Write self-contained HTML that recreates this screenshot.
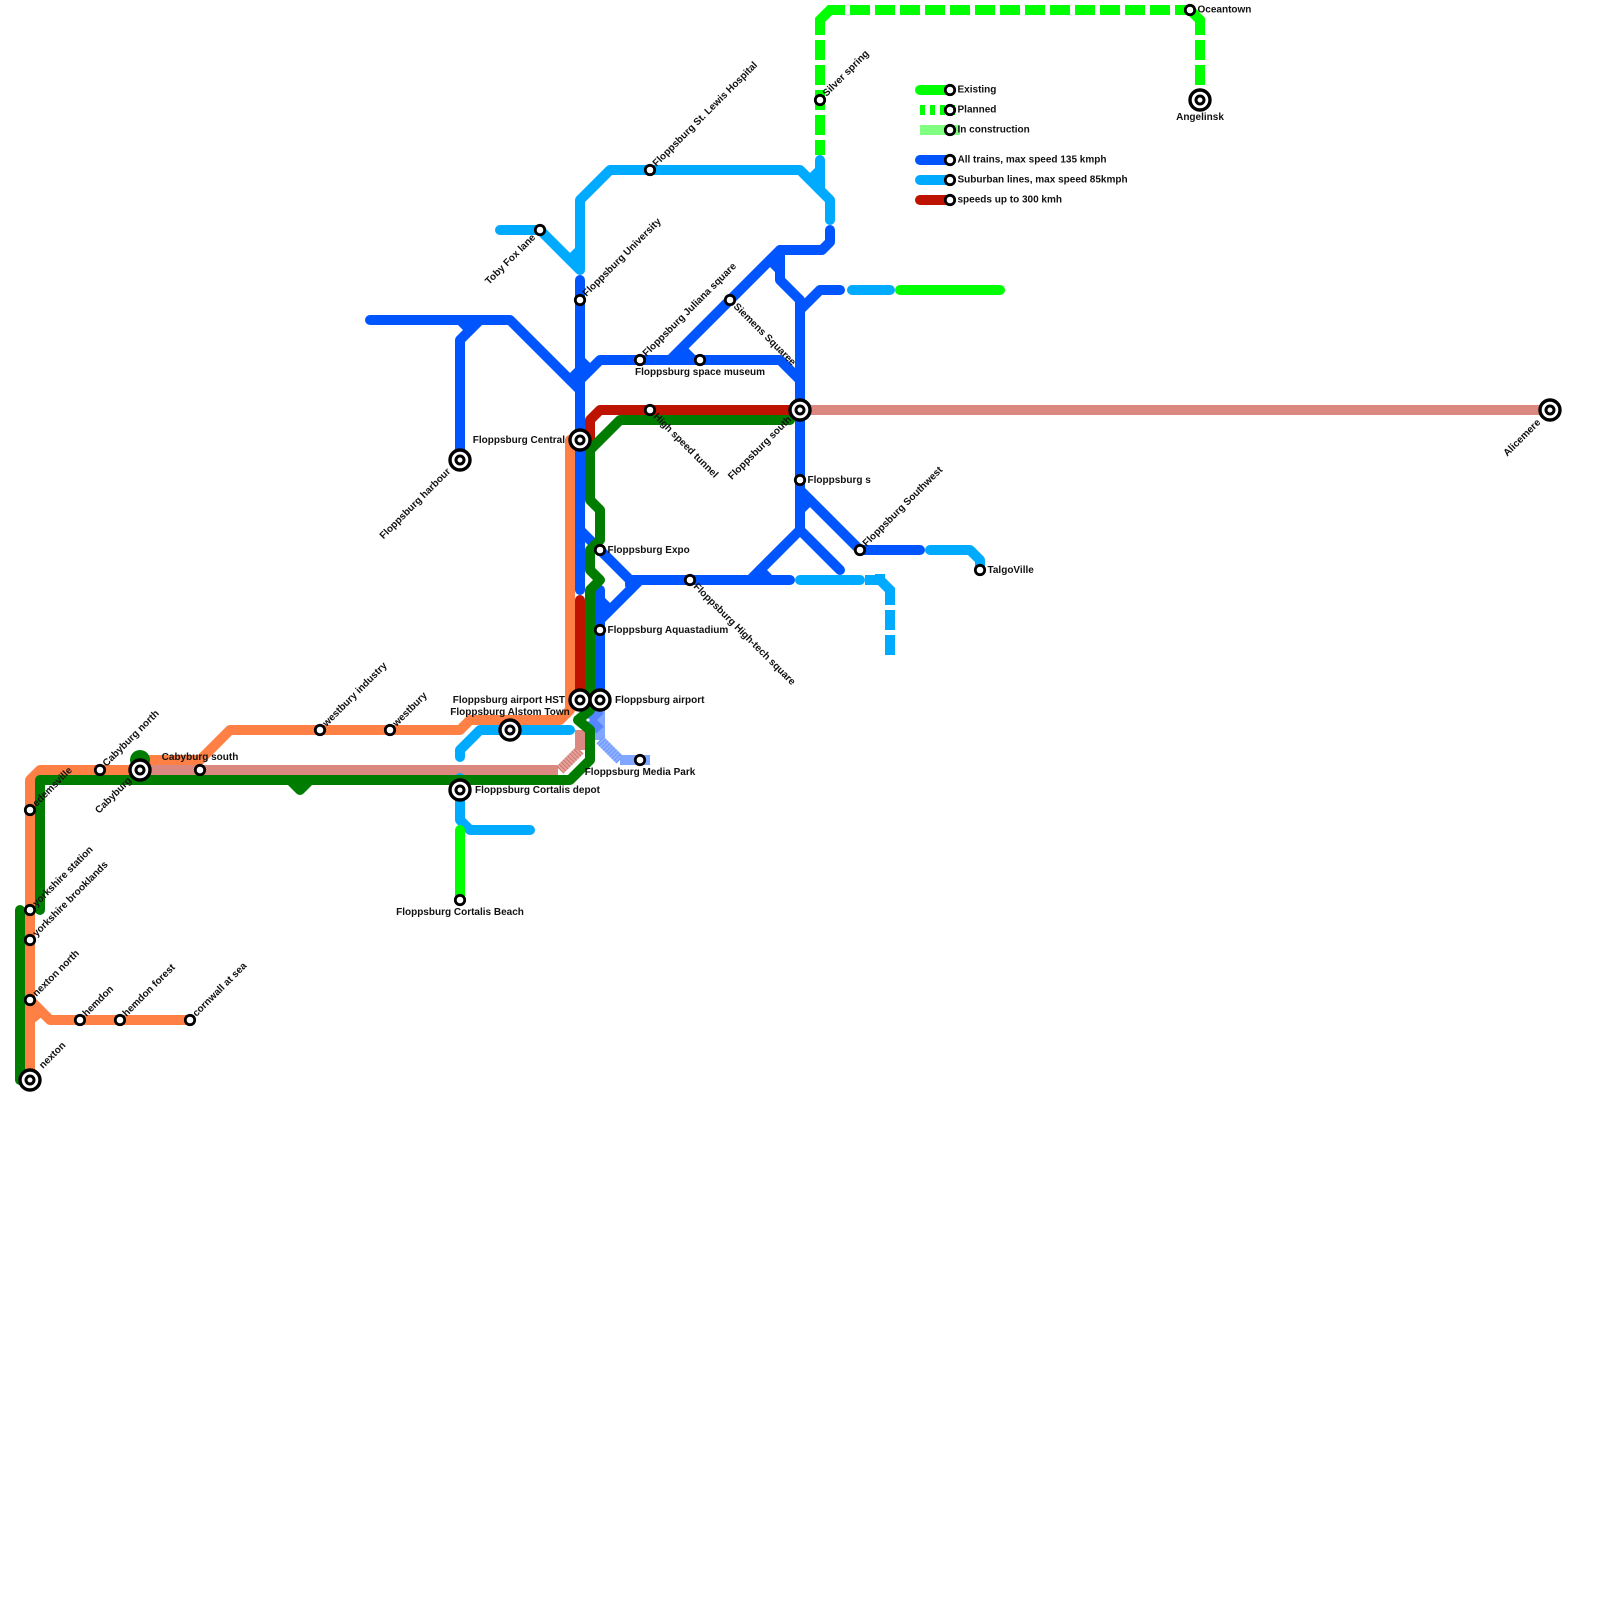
<!DOCTYPE html>
<html><head><meta charset="utf-8"><style>
html,body{margin:0;padding:0;background:#fff}
svg{display:block}
text{font-family:"Liberation Sans",sans-serif;font-size:10px;font-weight:700;fill:#111}
.l{fill:none;stroke-width:10;stroke-linecap:round;stroke-linejoin:round}
.b{fill:none;stroke-width:10;stroke-linecap:butt;stroke-linejoin:miter}
.s{fill:#fff;stroke:#000;stroke-width:2.8}
</style></head><body>
<svg width="1600" height="1600" viewBox="0 0 1600 1600" xmlns="http://www.w3.org/2000/svg">
<rect width="1600" height="1600" fill="#fff"/>
<!-- salmon -->
<g stroke="#db8880">
<path class="b" d="M150 770H558"/>
<path class="b" d="M560 770L580 750" stroke="#e3a29c"/>
<path class="b" d="M560 770L580 750" stroke="#d0746b" stroke-dasharray="1 2"/>
<path class="b" d="M580 750V730"/>
<path class="b" d="M800 410H1550"/>
</g>
<!-- construction blue -->
<g stroke="#80a6ff">
<path class="b" d="M600 710V740"/>
<path class="b" d="M600 740L620 760" stroke="#8fb1ff"/>
<path class="b" d="M600 740L620 760" stroke="#6a94ff" stroke-dasharray="1 2"/>
<path class="b" d="M620 760H650"/>
<path class="b" d="M590 720L600 710M590 720L600 730" stroke="#5585ff"/>
</g>
<!-- light blue -->
<g stroke="#00aaff">
<path class="l" d="M500 230H540L580 270V200L610 170H800L830 200V220"/>
<path class="l" d="M570 260L580 250"/>
<path class="l" d="M820 160V190M810 180L820 170"/>
<path class="l" d="M852 290H890"/>
<path class="l" d="M930 550H970L980 560V570"/>
<path class="l" d="M800 580H860"/>
<path class="b" d="M865 580H880L890 590V605M890 610V630M890 635V655M880 574V582"/>
<path class="l" d="M460 757V750L480 730H570"/>
<path class="l" d="M460 778V820L470 830H530"/>
</g>
<!-- blue -->
<g stroke="#0055ff">
<path class="l" d="M580 280V590"/>
<path class="l" d="M600 590V700"/>
<path class="l" d="M370 320H510L580 390"/>
<path class="l" d="M580 380L600 360H780L800 380"/>
<path class="l" d="M570 380L580 370M580 360L590 370"/>
<path class="l" d="M460 460V340L480 320M460 320L470 330"/>
<path class="l" d="M670 360L780 250H822L830 242V230"/>
<path class="l" d="M683 350L693 360"/>
<path class="l" d="M770 260L780 270M780 250V280L800 300V530"/>
<path class="l" d="M800 310L820 290H840"/>
<path class="l" d="M800 490L860 550H920"/>
<path class="l" d="M800 510L810 500"/>
<path class="l" d="M750 580L800 530L840 570"/>
<path class="l" d="M630 580H790"/>
<path class="l" d="M760 570L770 580"/>
<path class="l" d="M580 530L630 580V585"/>
<path class="l" d="M600 620L640 580"/>
<path class="l" d="M600 600L607 607"/>
</g>
<!-- orange -->
<g stroke="#ff8044">
<path class="l" d="M30 1080V780L40 770H140L150 760H200L230 730H460L470 720H560L570 710V440"/>
<path class="l" d="M30 1000L50 1020H190"/>
<path class="l" d="M30 1020L40 1012"/>
</g>
<!-- red -->
<g stroke="#bd1300">
<path class="l" d="M580 600V700"/>
<path class="l" d="M590 440V420L600 410H790"/>
</g>
<!-- dark green -->
<g stroke="#007d00">
<path class="l" d="M20 910V1080"/>
<circle cx="140" cy="760" r="10" fill="#007d00" stroke="none"/>
<path class="l" d="M40 910V780H570L590 760V730L578 720L590 710V590L600 580L590 570V550L600 540V510L590 500V450L620 420H790"/>
<path class="l" d="M290 780L300 790L310 780"/>
</g>
<!-- bright green -->
<g stroke="#00ff00">
<path class="l" d="M460 830V900"/>
<path class="l" d="M900 290H1000"/>
<path class="b" d="M820 35V20L830 10H845"/>
<path class="b" d="M820 40V155" stroke-dasharray="20 5"/>
<path class="b" d="M850 10H1175" stroke-dasharray="20 5"/>
<path class="b" d="M1175 10H1190L1200 20V35"/>
<path class="b" d="M1200 40V85" stroke-dasharray="20 5"/>
</g>
<!-- legend -->
<path class="l" stroke="#00ff00" d="M920 90H950"/>
<path class="b" stroke="#00ff00" d="M920 110H955" stroke-dasharray="5 5"/>
<path class="b" stroke="#80ff80" d="M920 130H960"/>
<path class="l" stroke="#0055ff" d="M920 160H950"/>
<path class="l" stroke="#00aaff" d="M920 180H950"/>
<path class="l" stroke="#bd1300" d="M920 200H950"/>
<!-- small stations -->
<g class="s">
<circle cx="30" cy="810" r="4.7"/><circle cx="30" cy="910" r="4.7"/><circle cx="30" cy="940" r="4.7"/><circle cx="30" cy="1000" r="4.7"/>
<circle cx="80" cy="1020" r="4.7"/><circle cx="120" cy="1020" r="4.7"/><circle cx="190" cy="1020" r="4.7"/>
<circle cx="100" cy="770" r="4.7"/><circle cx="200" cy="770" r="4.7"/>
<circle cx="320" cy="730" r="4.7"/><circle cx="390" cy="730" r="4.7"/>
<circle cx="460" cy="900" r="4.7"/><circle cx="640" cy="760" r="4.7"/>
<circle cx="540" cy="230" r="4.7"/><circle cx="580" cy="300" r="4.7"/><circle cx="650" cy="170" r="4.7"/>
<circle cx="640" cy="360" r="4.7"/><circle cx="700" cy="360" r="4.7"/><circle cx="730" cy="300" r="4.7"/>
<circle cx="650" cy="410" r="4.7"/><circle cx="800" cy="480" r="4.7"/><circle cx="860" cy="550" r="4.7"/>
<circle cx="980" cy="570" r="4.7"/><circle cx="600" cy="550" r="4.7"/><circle cx="600" cy="630" r="4.7"/>
<circle cx="690" cy="580" r="4.7"/><circle cx="820" cy="100" r="4.7"/><circle cx="1190" cy="10" r="4.7"/>
<circle cx="950" cy="90" r="4.7"/><circle cx="950" cy="110" r="4.7"/><circle cx="950" cy="130" r="4.7"/>
<circle cx="950" cy="160" r="4.7"/><circle cx="950" cy="180" r="4.7"/><circle cx="950" cy="200" r="4.7"/>
</g>
<!-- interchanges -->
<g fill="#fff" stroke="#000">
<circle cx="30" cy="1080" r="10" stroke-width="3.4"/><circle cx="30" cy="1080" r="4" stroke-width="3"/>
<circle cx="140" cy="770" r="10" stroke-width="3.4"/><circle cx="140" cy="770" r="4" stroke-width="3"/>
<circle cx="460" cy="790" r="10" stroke-width="3.4"/><circle cx="460" cy="790" r="4" stroke-width="3"/>
<circle cx="510" cy="730" r="10" stroke-width="3.4"/><circle cx="510" cy="730" r="4" stroke-width="3"/>
<circle cx="580" cy="700" r="10" stroke-width="3.4"/><circle cx="580" cy="700" r="4" stroke-width="3"/>
<circle cx="600" cy="700" r="10" stroke-width="3.4"/><circle cx="600" cy="700" r="4" stroke-width="3"/>
<circle cx="460" cy="460" r="10" stroke-width="3.4"/><circle cx="460" cy="460" r="4" stroke-width="3"/>
<circle cx="580" cy="440" r="10" stroke-width="3.4"/><circle cx="580" cy="440" r="4" stroke-width="3"/>
<circle cx="800" cy="410" r="10" stroke-width="3.4"/><circle cx="800" cy="410" r="4" stroke-width="3"/>
<circle cx="1550" cy="410" r="10" stroke-width="3.4"/><circle cx="1550" cy="410" r="4" stroke-width="3"/>
<circle cx="1200" cy="100" r="10" stroke-width="3.4"/><circle cx="1200" cy="100" r="4" stroke-width="3"/>
</g>
<!-- labels up-right -->
<text x="36.5" y="807" transform="rotate(-45 36.5 807)">edemsville</text>
<text x="36.5" y="907" transform="rotate(-45 36.5 907)">yorkshire station</text>
<text x="36.5" y="937" transform="rotate(-45 36.5 937)">yorkshire brooklands</text>
<text x="36.5" y="997" transform="rotate(-45 36.5 997)">nexton north</text>
<text x="86.5" y="1017" transform="rotate(-45 86.5 1017)">hemdon</text>
<text x="126.5" y="1017" transform="rotate(-45 126.5 1017)">hemdon forest</text>
<text x="196.5" y="1017" transform="rotate(-45 196.5 1017)">cornwall at sea</text>
<text x="43" y="1069" transform="rotate(-45 43 1069)">nexton</text>
<text x="106.5" y="767" transform="rotate(-45 106.5 767)">Cabyburg north</text>
<text x="326.5" y="727" transform="rotate(-45 326.5 727)">westbury industry</text>
<text x="396.5" y="727" transform="rotate(-45 396.5 727)">westbury</text>
<text x="586.5" y="297" transform="rotate(-45 586.5 297)">Floppsburg University</text>
<text x="656.5" y="167" transform="rotate(-45 656.5 167)">Floppsburg St. Lewis Hospital</text>
<text x="646.5" y="357" transform="rotate(-45 646.5 357)">Floppsburg Juliana square</text>
<text x="866.5" y="547" transform="rotate(-45 866.5 547)">Floppsburg Southwest</text>
<text x="826.5" y="97" transform="rotate(-45 826.5 97)">Silver spring</text>
<!-- labels end anchored -->
<text x="132" y="781" text-anchor="end" transform="rotate(-45 132 781)">Cabyburg</text>
<text x="536" y="238" text-anchor="end" transform="rotate(-45 536 238)">Toby Fox lane</text>
<text x="451" y="472" text-anchor="end" transform="rotate(-45 451 472)">Floppsburg harbour</text>
<text x="792" y="420" text-anchor="end" transform="rotate(-45 792 420)">Floppsburg south</text>
<text x="1541" y="423" text-anchor="end" transform="rotate(-45 1541 423)">Alicemere</text>
<!-- labels down-right -->
<text x="653" y="417" transform="rotate(45 653 417)">High speed tunnel</text>
<text x="693" y="587" transform="rotate(45 693 587)">Floppsburg High-tech square</text>
<text x="733" y="307" transform="rotate(45 733 307)">Siemens Squaree</text>
<!-- horizontal -->
<text x="200" y="760" text-anchor="middle">Cabyburg south</text>
<text x="475" y="793">Floppsburg Cortalis depot</text>
<text x="460" y="915" text-anchor="middle">Floppsburg Cortalis Beach</text>
<text x="565" y="703" text-anchor="end">Floppsburg airport HST</text>
<text x="510" y="715" text-anchor="middle">Floppsburg Alstom Town</text>
<text x="615" y="703">Floppsburg airport</text>
<text x="640" y="775" text-anchor="middle">Floppsburg Media Park</text>
<text x="565" y="443" text-anchor="end">Floppsburg Central</text>
<text x="700" y="375" text-anchor="middle">Floppsburg space museum</text>
<text x="807.5" y="483">Floppsburg s</text>
<text x="607.5" y="553">Floppsburg Expo</text>
<text x="607.5" y="633">Floppsburg Aquastadium</text>
<text x="987.5" y="573">TalgoVille</text>
<text x="1197.5" y="12.5">Oceantown</text>
<text x="1200" y="120" text-anchor="middle">Angelinsk</text>
<text x="957.5" y="92.5">Existing</text>
<text x="957.5" y="112.5">Planned</text>
<text x="957.5" y="132.5">In construction</text>
<text x="957.5" y="162.5">All trains, max speed 135 kmph</text>
<text x="957.5" y="182.5">Suburban lines, max speed 85kmph</text>
<text x="957.5" y="202.5">speeds up to 300 kmh</text>
</svg>
</body></html>
